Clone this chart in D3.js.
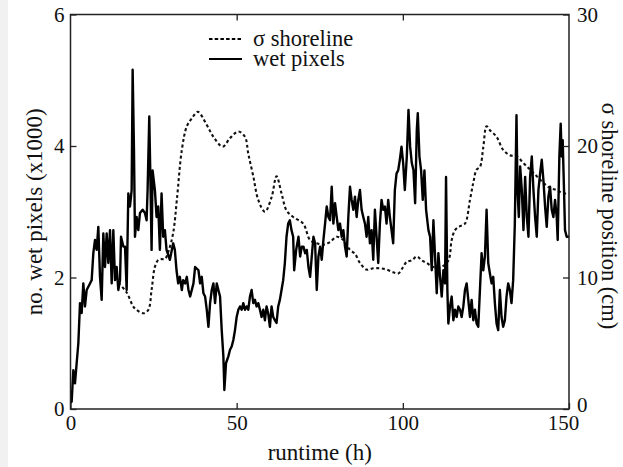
<!DOCTYPE html>
<html>
<head>
<meta charset="utf-8">
<script src="https://cdn.jsdelivr.net/npm/d3@7"></script>
<style>
  html, body { margin: 0; padding: 0; background: #fff; }
  svg { display: block; }
  text { font-family: "Liberation Serif", "Times New Roman", serif; fill: #111; }
</style>
</head>
<body>
<svg id="chart" width="623" height="467"></svg>
<script>
// runtime (h) and number of wet pixels (thousands)
const wetHours = [0,0.35,0.85,1.35,1.86,2.36,2.86,3.36,3.86,4.36,4.87,5.37,5.87,6.37,6.87,7.37,7.87,8.37,8.88,9.38,9.88,10.38,10.88,11.38,11.89,12.39,12.89,13.39,13.89,14.39,14.9,15.2,15.9,16.4,16.9,17.4,17.9,18.4,18.7,19.1,19.4,19.9,20.4,20.9,21.7,22.4,22.9,23.2,23.7,24.1,24.4,24.7,25.4,25.9,26.4,26.9,27.4,27.9,28.4,28.9,29.9,30.9,31.4,31.9,32.4,32.9,33.5,33.9,34.5,35.0,35.5,36.0,37.0,37.5,38.5,39.0,39.5,40.0,40.5,41.0,41.5,42.0,42.5,43.0,43.5,44.0,44.5,45.0,45.5,46.0,46.3,46.8,47.5,48.0,48.5,49.0,49.5,50.0,50.5,51.0,51.5,52.0,52.5,53.0,53.5,54.0,54.5,55.0,55.5,56.0,56.5,57.0,57.5,58.0,58.5,59.0,59.5,60.0,60.5,61.0,61.5,62.0,62.5,63.0,63.5,64.0,64.5,65.0,65.5,66.0,66.5,67.0,67.3,67.9,68.6,69.1,69.6,70.1,70.6,71.1,71.6,72.1,72.6,73.1,73.6,74.1,74.6,75.1,75.6,76.1,76.6,77.1,77.6,78.1,78.6,79.1,79.6,80.1,80.6,81.1,81.6,82.1,82.6,83.1,83.6,84.1,84.6,85.1,85.6,86.1,86.6,87.1,87.6,88.1,88.6,89.1,89.6,90.1,90.6,91.1,91.6,92.1,92.6,93.1,93.6,94.1,94.6,95.1,95.6,96.1,96.6,97.1,97.6,98.1,98.6,99.1,99.6,100.1,100.6,101.2,101.7,102.2,102.7,103.2,103.7,104.2,104.5,105.0,105.5,106.0,106.5,107.0,107.7,108.2,108.7,109.2,109.7,110.2,110.7,111.2,111.7,112.2,112.7,113.0,113.4,113.7,114.2,114.7,115.2,115.7,116.2,116.7,117.2,117.7,118.2,118.7,119.2,119.7,120.2,120.7,121.2,121.7,122.2,122.7,123.2,123.7,124.2,124.7,125.2,125.7,126.2,126.7,127.2,127.7,128.2,128.7,129.2,129.7,130.2,130.7,131.2,131.7,132.2,132.7,133.2,133.7,134.2,134.5,134.9,135.3,135.8,136.3,136.8,137.3,137.8,138.3,138.8,139.3,139.8,140.3,140.8,141.3,141.8,142.3,142.8,143.3,143.8,144.3,144.8,145.3,145.8,146.3,146.6,147.1,147.5,147.8,148.1,148.5,148.8,149.3,149.8,150];
const wetPixels = [0.10,0.11,0.59,0.39,0.70,1.00,1.61,1.46,1.91,1.56,1.81,1.86,1.91,1.96,2.37,2.57,2.42,2.77,2.01,1.66,2.67,2.16,2.67,2.22,2.72,1.91,2.72,1.96,2.16,1.81,1.96,2.62,2.47,2.47,1.81,3.28,3.08,3.33,5.16,3.94,2.62,2.92,2.72,2.98,3.03,2.98,2.87,3.33,4.45,3.33,2.42,3.63,3.33,2.92,3.08,2.42,3.28,2.62,2.72,2.42,2.27,2.52,2.42,2.11,1.91,2.01,1.81,1.96,1.91,2.01,1.81,1.71,1.91,2.16,2.11,1.91,2.01,1.76,1.71,1.51,1.25,1.61,1.81,1.91,1.61,1.91,1.81,1.71,1.20,0.80,0.29,0.70,0.80,0.90,0.95,1.05,1.20,1.40,1.51,1.56,1.51,1.61,1.51,1.56,1.51,1.71,1.81,1.61,1.66,1.56,1.61,1.51,1.40,1.51,1.35,1.56,1.45,1.25,1.56,1.40,1.35,1.31,1.56,1.66,1.81,1.96,2.22,2.62,2.82,2.87,2.72,2.62,2.11,2.42,2.62,2.32,2.47,2.47,2.37,2.42,2.16,2.01,2.32,2.62,2.52,1.81,2.32,2.47,2.27,2.57,2.82,3.08,2.92,2.87,3.38,2.82,3.13,2.92,2.72,2.82,2.62,2.72,2.47,2.32,2.92,3.38,3.18,3.03,3.23,2.92,3.18,3.33,3.03,2.92,2.82,2.62,2.92,2.52,2.72,2.27,3.03,2.62,2.22,2.82,3.18,3.03,3.08,2.82,3.18,2.92,2.72,2.52,3.33,3.58,3.63,3.79,3.99,3.74,3.33,3.84,4.55,3.99,3.74,3.63,3.13,4.24,4.50,3.84,3.63,3.18,3.63,3.03,2.72,2.62,2.11,2.87,2.32,1.76,2.37,2.01,1.71,2.11,1.91,3.53,1.81,1.30,1.56,1.71,1.35,1.51,1.40,1.56,1.51,1.40,1.56,1.81,1.91,1.66,1.40,1.66,1.35,1.51,1.30,1.25,1.81,2.37,2.11,2.32,3.03,2.22,2.06,1.91,2.01,1.61,1.30,1.20,1.81,1.40,1.25,1.35,1.71,1.91,1.81,1.61,1.96,2.82,4.47,3.33,2.92,3.69,3.33,2.72,3.53,2.92,2.62,3.53,3.84,3.33,2.92,2.62,3.33,3.58,3.79,3.48,3.08,2.77,3.23,3.38,3.03,2.92,3.18,2.92,2.57,3.84,4.34,3.84,4.09,3.33,2.72,2.62,2.62,2.62];

// runtime (h) and standard deviation of shoreline position (cm)
const sigmaHours = [14.4,16.9,18.9,19.9,21.9,23.4,24.4,25.4,26.4,27.4,28.4,29.5,30.9,32.0,33.5,35.0,36.5,38.3,41.0,43.0,45.8,48.0,50.5,52.5,53.5,55.0,56.5,58.5,60.5,62.0,63.5,65.0,67.0,70.0,72.1,74.1,76.1,78.1,80.1,82.1,84.1,85.6,87.1,89.1,91.1,93.1,95.1,97.1,98.6,100.1,101.2,102.7,104.2,105.7,107.2,109.2,111.5,113.7,114.7,115.7,117.2,118.7,120.2,121.2,122.2,123.2,124.2,125.2,126.2,128.2,130.2,132.2,134.3,136.3,138.3,140.3,142.3,144.3,146.3,148.3,150];
const sigmaShoreline = [9.6,8.86,7.78,7.53,7.28,7.53,9.05,10.82,11.33,11.4,11.4,12.0,13.4,15.9,19.7,21.5,22.1,22.6,21.6,20.7,19.95,20.6,21.1,20.7,19.4,17.7,15.9,15.0,16.1,17.7,16.4,15.1,14.6,14.1,12.85,12.6,12.5,12.7,13.1,12.85,12.1,11.8,11.1,10.6,10.7,10.7,10.6,10.4,10.3,10.8,11.2,11.3,11.6,11.3,11.1,10.8,10.8,11.3,12.85,13.6,13.9,14.1,15.9,17.2,18.2,18.4,19.9,21.5,21.2,20.7,19.7,19.3,19.2,18.7,18.2,17.7,17.2,16.8,16.65,16.4,16.4];

// axis ticks
const xTicks = [0, 50, 100, 150];
const leftTicks = [0, 2, 4, 6];
const rightTicks = [0, 10, 20, 30];
const legendLabels = ["σ shoreline", "wet pixels"];

const svg = d3.select("#chart");
const plotLeft = 70.5, plotRight = 569, plotTop = 14.5, plotBottom = 409;

// faint strip along the left edge of the page
svg.append("rect").attr("x", 0).attr("y", 0).attr("width", 8).attr("height", 467).attr("fill", "#f1f1f1");

const x = d3.scaleLinear().domain([0, 150]).range([plotLeft, plotRight]);
const yL = d3.scaleLinear().domain([0, 6]).range([plotBottom, plotTop]);
const yR = d3.scaleLinear().domain([0, 30]).range([plotBottom, plotTop]);

const wet = wetHours.map((h, i) => ({ h, v: wetPixels[i] }));
const sigma = sigmaHours.map((h, i) => ({ h, v: sigmaShoreline[i] }));

// sigma shoreline (dotted, right axis)
svg.append("path")
  .datum(sigma)
  .attr("fill", "none")
  .attr("stroke", "#111")
  .attr("stroke-width", 2.1)
  .attr("stroke-dasharray", "3,2.6")
  .attr("d", d3.line().x(d => x(d.h)).y(d => yR(d.v)).curve(d3.curveCatmullRom.alpha(0.5)));

// wet pixels (solid, left axis)
svg.append("path")
  .datum(wet)
  .attr("fill", "none")
  .attr("stroke", "#000")
  .attr("stroke-width", 2.4)
  .attr("stroke-linejoin", "round")
  .attr("d", d3.line().x(d => x(d.h)).y(d => yL(d.v)));

// frame
svg.append("rect")
  .attr("x", plotLeft).attr("y", plotTop)
  .attr("width", plotRight - plotLeft).attr("height", plotBottom - plotTop)
  .attr("fill", "none").attr("stroke", "#222").attr("stroke-width", 1.5);

function styleAxis(g) {
  g.select(".domain").remove();
  g.selectAll(".tick line").attr("stroke", "#222").attr("stroke-width", 1.3);
  g.selectAll(".tick text").attr("font-size", 21).attr("font-family", "Liberation Serif, serif").attr("fill", "#111");
}

const gB = svg.append("g").attr("transform", `translate(0,${plotBottom})`)
  .call(d3.axisBottom(x).tickValues(xTicks).tickSize(-6).tickPadding(6).tickFormat(d3.format("d")))
  .call(styleAxis);
gB.selectAll(".tick").filter(d => d === 150).select("text").attr("dx", -6);

svg.append("g").attr("transform", `translate(0,${plotTop})`)
  .call(d3.axisTop(x).tickValues([50, 100]).tickSize(-6).tickFormat(""))
  .call(styleAxis);

svg.append("g").attr("transform", `translate(${plotLeft},0)`)
  .call(d3.axisLeft(yL).tickValues(leftTicks).tickSize(-6).tickPadding(6).tickFormat(d3.format("d")))
  .call(styleAxis);

const gR = svg.append("g").attr("transform", `translate(${plotRight},0)`)
  .call(d3.axisRight(yR).tickValues(rightTicks).tickSize(-6).tickPadding(8).tickFormat(d3.format("d")))
  .call(styleAxis);
gR.selectAll(".tick").filter(d => d === 0).select("text").attr("dy", "0.1em");

// axis titles
svg.append("text")
  .attr("x", (plotLeft + plotRight) / 2).attr("y", 460)
  .attr("text-anchor", "middle").attr("font-size", 23)
  .text("runtime (h)");

svg.append("text")
  .attr("transform", `translate(42,${(plotTop + plotBottom) / 2}) rotate(-90)`)
  .attr("text-anchor", "middle").attr("font-size", 23)
  .text("no. wet pixels (x1000)");

svg.append("text")
  .attr("transform", `translate(602,216) rotate(90)`)
  .attr("text-anchor", "middle").attr("font-size", 22.5)
  .text("σ shoreline position (cm)");

// legend
const legend = svg.append("g");
legendLabels.forEach((label, i) => {
  const ly = 39 + i * 20;
  legend.append("line")
    .attr("x1", 209).attr("x2", 242).attr("y1", ly).attr("y2", ly)
    .attr("stroke", "#000").attr("stroke-width", 2)
    .attr("stroke-dasharray", i === 0 ? "3.5,2.2" : null);
  legend.append("text")
    .attr("x", 253).attr("y", ly + 7)
    .attr("font-size", 22.5)
    .text(label);
});
</script>
</body>
</html>
